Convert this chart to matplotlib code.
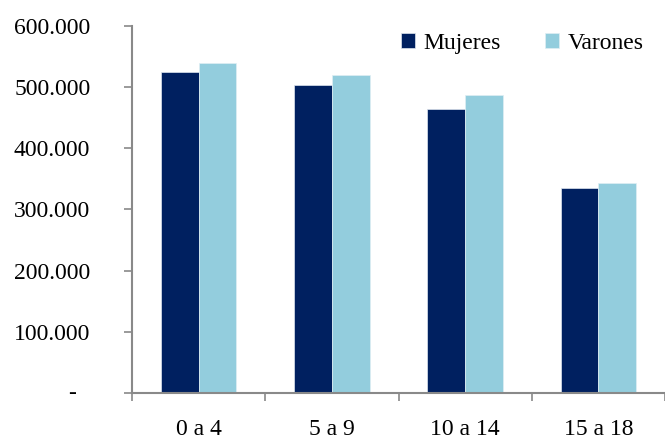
import matplotlib
matplotlib.use("Agg")
import numpy as np
import matplotlib.pyplot as plt

plt.rcParams['font.family'] = ['Liberation Serif', 'DejaVu Serif']

categories = ['0 a 4', '5 a 9', '10 a 14', '15 a 18']
mujeres = [524000, 504000, 465000, 335000]
varones = [539500, 519500, 487000, 344000]
yticks = [0, 100000, 200000, 300000, 400000, 500000, 600000]
ytick_labels = ['', '100.000', '200.000', '300.000', '400.000', '500.000', '600.000']

navy = '#002060'
light = '#93CDDD'
grey = '#898989'
fs = 17

fig = plt.figure(figsize=(6.65, 4.41), dpi=100)
ax = fig.add_axes([132/665, 1 - 393/441, 533/665, (393 - 26)/441])

x = np.arange(len(categories))
w = 0.283
ax.bar(x - w/2, mujeres, w, color=navy, edgecolor='#dfe6ef', linewidth=0.5, label='Mujeres')
ax.bar(x + w/2, varones, w, color=light, edgecolor='#dfeef3', linewidth=0.5, label='Varones')

ax.set_xlim(-0.5, 3.42)
ax.set_ylim(0, 600000)

ax.set_yticks(yticks)
ax.set_yticklabels(ytick_labels)
ax.set_xticks(x)
ax.set_xticklabels(categories)
ax.set_xticks(np.arange(-0.5, 4, 1), minor=True)

for s in ['top', 'right']:
    ax.spines[s].set_visible(False)
for s in ['left', 'bottom']:
    ax.spines[s].set_color(grey)
    ax.spines[s].set_linewidth(1.5)

ax.tick_params(axis='y', direction='out', length=6, width=1.2, color=grey,
               labelsize=fs, pad=24)
ax.tick_params(axis='x', which='major', length=0, labelsize=fs, pad=19)
ax.tick_params(axis='x', which='minor', direction='out', length=6, width=1.2, color=grey)

# zero shown as a dash, set further left like the accounting format
ax.text(-60/533, 0, '-', transform=ax.get_yaxis_transform(), ha='center',
        va='center', fontsize=fs)

ax.legend(loc='upper right', bbox_to_anchor=(1.0, 1.04), ncol=2, frameon=False,
          fontsize=fs, handlelength=0.6, handleheight=0.6, handletextpad=0.35,
          columnspacing=1.9)

fig.savefig('out.png', dpi=100)
